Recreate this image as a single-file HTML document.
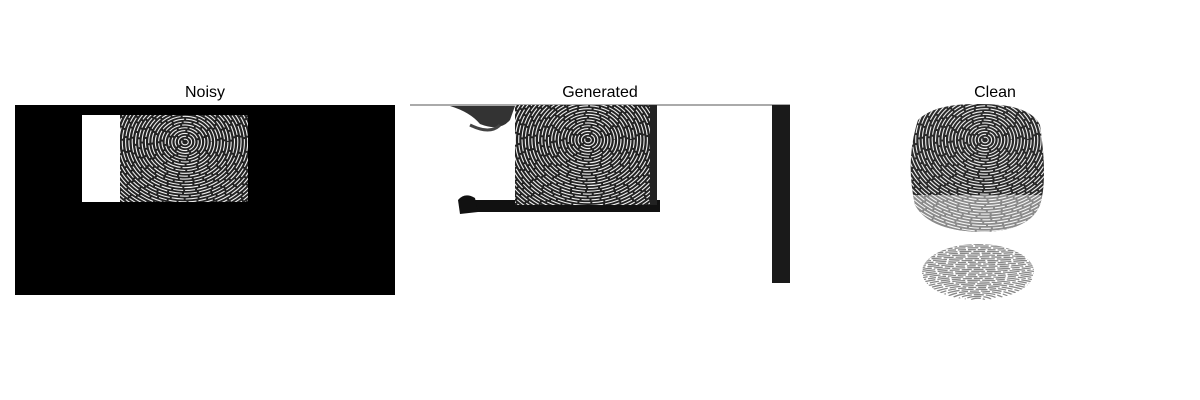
<!DOCTYPE html>
<html><head><meta charset="utf-8"><style>
body{margin:0;background:#fff;width:1200px;height:400px;overflow:hidden;font-family:"Liberation Sans",sans-serif}
svg{display:block}
</style></head><body>
<svg id="fig" width="1200" height="400" viewBox="0 0 1200 400">
<defs>
<clipPath id="cpN"><rect x="120" y="115" width="128" height="87"/></clipPath>
<clipPath id="cpG"><rect x="515" y="105" width="135" height="100"/></clipPath>
<clipPath id="cpC"><path d="M918 120 Q935 103 980 104 Q1030 104 1040 125 Q1048 180 1040 205 Q1030 230 985 232 Q930 232 915 205 Q905 160 918 120Z"/></clipPath>
<clipPath id="cpC2"><ellipse cx="978" cy="272" rx="56" ry="28"/></clipPath>
</defs>
<text x="205" y="97" font-size="16" text-anchor="middle" fill="#000">Noisy</text>
<text x="600" y="97" font-size="16" text-anchor="middle" fill="#000">Generated</text>
<text x="995" y="97" font-size="16" text-anchor="middle" fill="#000">Clean</text>

<g>
<rect x="15" y="105" width="380" height="190" fill="#000"/>
<rect x="82" y="115" width="166" height="87" fill="#fff"/>
<g clip-path="url(#cpN)"><rect x="120" y="115" width="128" height="87" fill="#222"/><g id="fpN"></g></g>
</g>

<g>
<rect x="410" y="105" width="380" height="190" fill="#fff"/>
<rect x="410" y="104" width="380" height="2" fill="#555" opacity="0.5"/>
<path d="M450 106 Q470 112 480 124 Q500 132 510 120 L515 106Z" fill="#333"/>
<path d="M470 125 Q490 135 500 125" stroke="#444" stroke-width="3" fill="none"/>
<rect x="460" y="200" width="200" height="12" fill="#111"/>
<path d="M458 200 Q465 192 475 198 L478 212 L460 214Z" fill="#111"/>
<rect x="645" y="105" width="12" height="100" fill="#222"/>
<rect x="772" y="105" width="18" height="178" fill="#1a1a1a"/>
<g clip-path="url(#cpG)"><rect x="515" y="105" width="135" height="100" fill="#222"/><g id="fpG"></g></g>
</g>

<g>
<g clip-path="url(#cpC)"><rect x="900" y="100" width="160" height="140" fill="#2a2a2a"/><g id="fpC"></g>
<rect x="900" y="195" width="160" height="45" fill="#fff" opacity="0.45"/></g>
<g clip-path="url(#cpC2)"><rect x="900" y="240" width="160" height="60" fill="#fff"/><g id="fpC2"></g></g>
</g>
</svg>
<script>
const ringRadii=[3,6,9,12,15,18,21,24,27,30,33,36,39,42,45,48,51,54,57,60,63,66,69,72,75,78,81,84,87,90,93,96];
const NS="http://www.w3.org/2000/svg";
function rings(id,cx,cy,sx,sy,color,w){
  const g=document.getElementById(id);
  ringRadii.forEach(r=>{
    const e=document.createElementNS(NS,'ellipse');
    
    
    e.setAttribute('cx',cx);e.setAttribute('cy',cy);
    e.setAttribute('rx',r*sx);e.setAttribute('ry',r*sy);
    e.setAttribute('fill','none');e.setAttribute('stroke',color);
    e.setAttribute('stroke-width',w);
    e.setAttribute('stroke-dasharray',(8+r%7)+' 2');
    g.appendChild(e);
  });
}
rings('fpN',185,142,1.1,0.95,'#eee',1.1);
rings('fpG',588,140,1.1,0.95,'#eee',1.1);
rings('fpC',985,140,1.1,0.95,'#eee',1.1);
rings('fpC2',978,300,2.2,0.6,'#888',1.3);
</script>
</body></html>
